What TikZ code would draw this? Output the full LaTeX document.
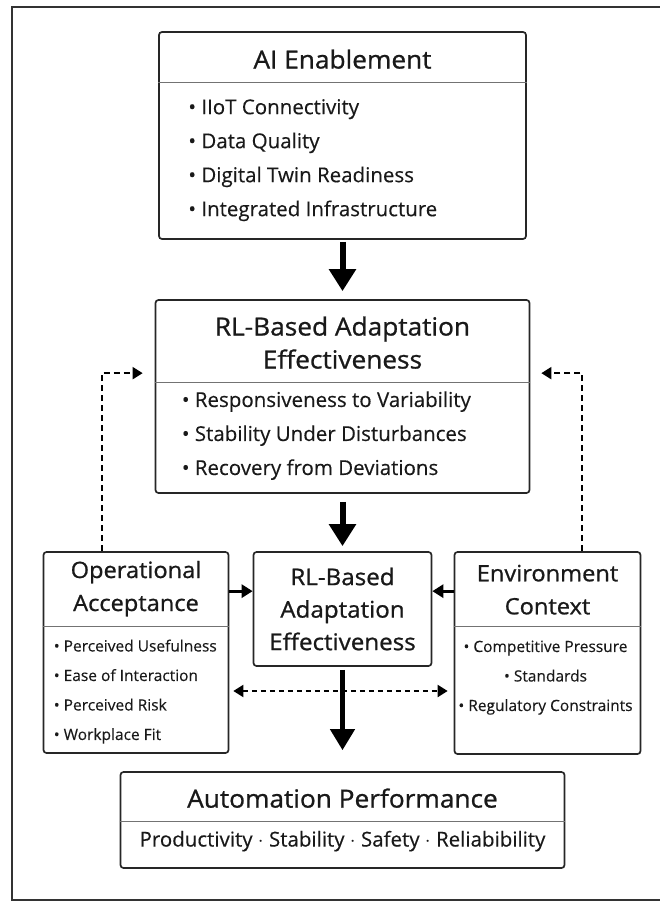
\documentclass[tikz,border=0pt]{standalone}
\usepackage{fontspec}
\setmainfont{Open Sans}[FakeBold=0.3]
\newfontfamily\headfont{Open Sans}[FakeBold=0.9,FakeStretch=1.05]
\usetikzlibrary{arrows.meta,positioning}

\begin{document}
\begin{tikzpicture}[x=1pt,y=-1pt,node distance=200pt]
      \tikzstyle{box}=[rectangle,draw=black!85,line width=1.7pt,rounded corners=3pt,inner sep=0pt]
      \tikzstyle{sep}=[draw=black!55,line width=0.8pt]
      \tikzstyle{ttl}=[align=center,text=black!90,font=\headfont\fontsize{25}{33}\selectfont]
      \tikzstyle{sttl}=[align=center,text=black!90,font=\headfont\fontsize{22.5}{33}\selectfont]
      \tikzstyle{lst}=[align=left,anchor=west,inner sep=0pt,text=black!90,font=\fontsize{20.5}{34}\selectfont]
      \tikzstyle{slst}=[inner sep=0pt,text=black!90,font=\fontsize{15.5}{29.5}\selectfont]
      \tikzstyle{big}=[line width=6pt,-{Triangle[width=26pt,length=22pt]}]
      \tikzstyle{sm}=[line width=3pt,-{Triangle[width=13pt,length=11pt]}]
      \tikzstyle{fb}=[line width=2pt,dash pattern=on 6pt off 4pt,-{Triangle[width=12pt,length=10pt]}]
      \tikzstyle{link}=[line width=2pt,dash pattern=on 5pt off 4pt,{Triangle[width=12pt,length=10pt]}-{Triangle[width=12pt,length=10pt]}]

      \useasboundingbox (0,0) rectangle (660,902);
      \draw[line width=1.5pt,black!80] (666,7) -- (12,7) -- (12,900) -- (666,900);

      % boxes
      \node[box,minimum width=367pt,minimum height=207pt] (ai) at (342.5,135.5) {};
      \node[box,minimum width=374pt,minimum height=193pt] (rl) [node distance=261pt, below of=ai] {};
      \node[box,minimum width=178pt,minimum height=114pt,align=center,text=black!90,
            font=\headfont\fontsize{23}{32.5}\selectfont] (mid) [node distance=212.5pt, below of=rl]
            {RL-Based\\Adaptation\\Effectiveness};
      \node[box,minimum width=444pt,minimum height=96pt] (perf) [node distance=211pt, below of=mid] {};
      \node[box,minimum width=185pt,minimum height=201pt] (accept) [node distance=206.5pt, left of=mid, yshift=-43.5pt] {};
      \node[box,minimum width=186pt,minimum height=202pt] (env) [node distance=205pt, right of=mid, yshift=-44pt] {};

      % AI enablement
      \node[ttl] (aittl) at ([yshift=-28pt]ai.north) {AI Enablement};
      \draw[sep] ([yshift=-51pt]ai.north west) -- ([yshift=-51pt]ai.north east);
      \node[lst] (ailst) at ([xshift=30pt,yshift=-129pt]ai.north west)
            {• IIoT Connectivity\\• Data Quality\\• Digital Twin Readiness\\• Integrated Infrastructure};

      % RL-based adaptation
      \node[ttl] (rlttl) at ([yshift=-43.5pt]rl.north) {RL-Based Adaptation\\Effectiveness};
      \draw[sep] ([yshift=-83pt]rl.north west) -- ([yshift=-83pt]rl.north east);
      \node[lst] (rllst) at ([xshift=27pt,yshift=-136.5pt]rl.north west)
            {• Responsiveness to Variability\\• Stability Under Disturbances\\• Recovery from Deviations};

      % operational acceptance
      \node[sttl] (acttl) at ([yshift=-37.5pt]accept.north) {Operational\\Acceptance};
      \draw[sep] ([yshift=-75pt]accept.north west) -- ([yshift=-75pt]accept.north east);
      \node[slst,align=left,anchor=west] (aclst) at ([xshift=11pt,yshift=-140.5pt]accept.north west)
            {• Perceived Usefulness\\• Ease of Interaction\\• Perceived Risk\\• Workplace Fit};

      % environment context
      \node[sttl] (envttl) at ([yshift=-38.5pt]env.north) {Environment\\Context};
      \draw[sep] ([yshift=-75pt]env.north west) -- ([yshift=-75pt]env.north east);
      \node[slst,align=center] (envlst) at ([xshift=-2pt,yshift=-126.5pt]env.north)
            {• Competitive Pressure\\• Standards\\• Regulatory Constraints};

      % automation performance
      \node[ttl] (perfttl) at ([yshift=-27pt]perf.north) {Automation Performance};
      \draw[sep] ([yshift=-50pt]perf.north west) -- ([yshift=-50pt]perf.north east);
      \node[text=black!90,font=\fontsize{20.5}{24}\selectfont] (perflst) at ([yshift=-70pt]perf.north)
            {Productivity $\cdot$ Stability $\cdot$ Safety $\cdot$ Reliabibility};

      % arrows
      \draw[big,shorten <=2pt,shorten >=8pt] (ai) -- (rl);
      \draw[big,shorten <=8pt,shorten >=5pt] (rl) -- (mid);
      \draw[line width=4.5pt,-{Triangle[width=24pt,length=21pt]},shorten <=3pt,shorten >=21pt] (mid) -- (perf);
      \draw[sm] ([yshift=-40pt]accept.north east) -- ([yshift=-40pt]mid.north west);
      \draw[sm] ([yshift=-40pt]env.north west) -- ([yshift=-40pt]mid.north east);
      \draw[fb] ([xshift=59pt]accept.north west) |- ([xshift=-12pt,yshift=-74pt]rl.north west);
      \draw[fb] ([xshift=-59pt]env.north east) |- ([xshift=11pt,yshift=-74pt]rl.north east);
      \draw[link,shorten <=4pt,shorten >=6pt] ([yshift=-38.5pt]accept.east) -- ([yshift=-38pt]env.west);
\end{tikzpicture}
\end{document}
